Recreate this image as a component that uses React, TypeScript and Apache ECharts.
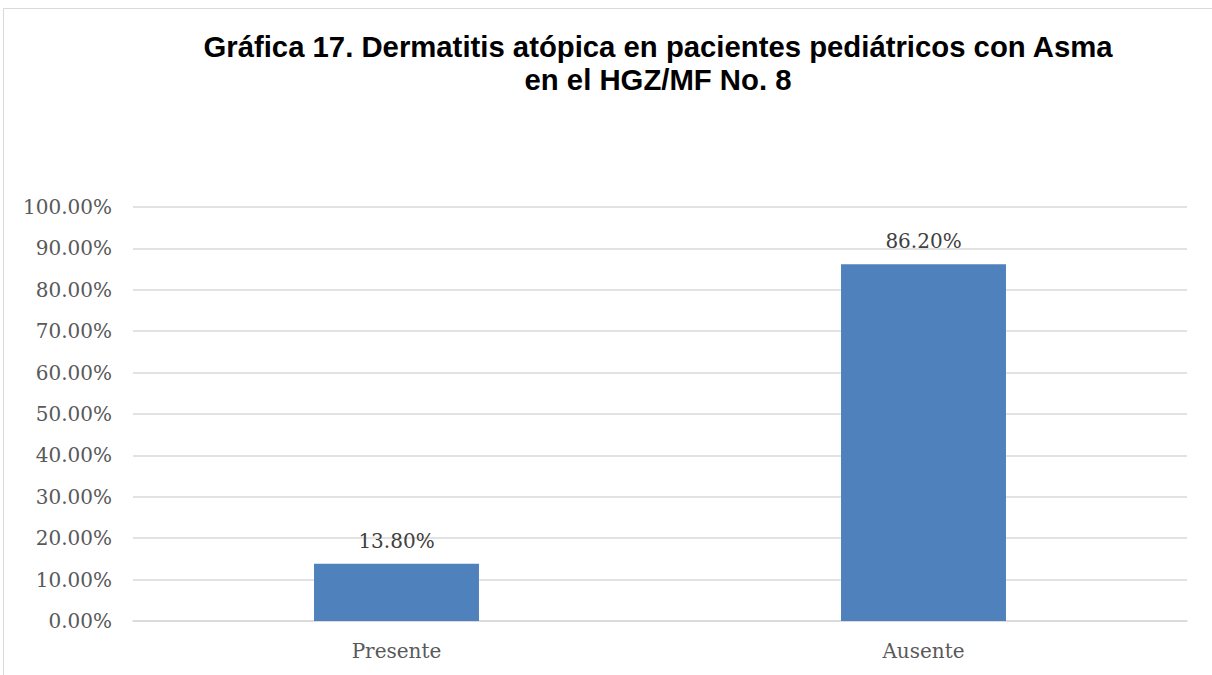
import React, { useEffect, useRef } from "react";
import * as echarts from "echarts";

const categories = ["Presente", "Ausente"];
const values = [13.8, 86.2];
const titleLines = ["Gráfica 17. Dermatitis atópica en pacientes pediátricos con Asma", "en el HGZ/MF No. 8"];

export default function App() {
  const ref = useRef<HTMLDivElement>(null);
  useEffect(() => {
    const chart = echarts.init(ref.current!, null, { renderer: "svg" });
    const serif = "'DejaVu Serif', serif";
    chart.setOption({
      animation: false,
      backgroundColor: "#ffffff",
      title: {
        text: titleLines.join("\n"),
        left: 653,
        top: 25,
        textAlign: "center",
        textStyle: {
          fontFamily: "'Liberation Sans', Arial, sans-serif",
          fontWeight: "bold",
          fontSize: 29.3,
          lineHeight: 33,
          color: "#000000",
        },
      },
      graphic: [
        {
          type: "rect",
          shape: { x: 3.5, y: 8.5, width: 1300, height: 800 },
          style: { fill: "none", stroke: "#d9d9d9", lineWidth: 1 },
          silent: true,
        },
      ],
      grid: { left: 133, right: 25, top: 207, bottom: 54, containLabel: false },
      xAxis: {
        type: "category",
        data: categories,
        axisLine: { show: true, lineStyle: { color: "#d9d9d9", width: 1.5 } },
        axisTick: { show: false },
        axisLabel: { fontFamily: serif, fontSize: 20, color: "#595959", margin: 20 },
      },
      yAxis: {
        type: "value",
        min: 0,
        max: 100,
        interval: 10,
        axisLine: { show: false },
        axisTick: { show: false },
        splitLine: { lineStyle: { color: "#d9d9d9", width: 1.5 } },
        axisLabel: {
          fontFamily: serif,
          fontSize: 20,
          color: "#595959",
          margin: 21,
          formatter: (v: number) => v.toFixed(2) + "%",
        },
      },
      series: [
        {
          type: "bar",
          data: values,
          barWidth: "31.3%",
          itemStyle: { color: "#4f81bd" },
          label: {
            show: true,
            position: "top",
            distance: 13,
            fontFamily: serif,
            fontSize: 20,
            color: "#404040",
            formatter: (p: any) => p.value.toFixed(2) + "%",
          },
        },
      ],
    });
    return () => chart.dispose();
  }, []);
  return <div ref={ref} style={{ position: "fixed", left: 0, top: 0, width: 1212, height: 675 }} />;
}
